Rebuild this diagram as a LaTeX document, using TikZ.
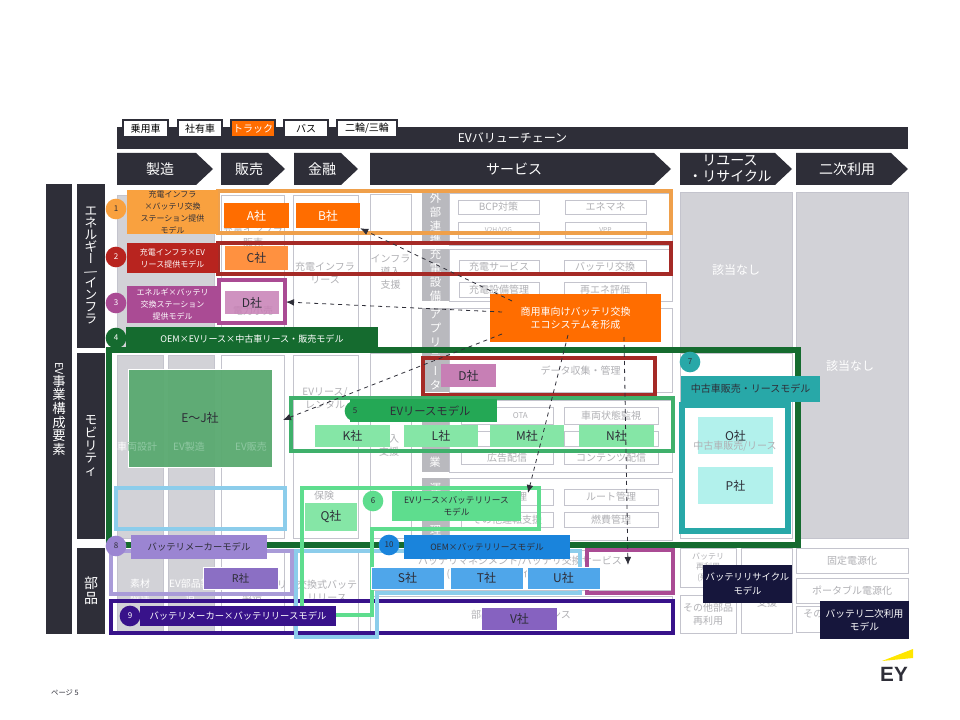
\documentclass[tikz,border=0pt]{standalone}
\usepackage{fontspec}
\usepackage{graphicx}
\setmainfont{Noto Sans CJK JP}
\newfontfamily\vertfont[RawFeature=+vert]{Noto Sans CJK JP}
\newfontfamily\logofont{Liberation Sans}
\usetikzlibrary{arrows.meta,calc}
\definecolor{evdark}{HTML}{2E2E38}
\definecolor{cellgray}{HTML}{D2D2D7}
\definecolor{stripgray}{HTML}{B9B9BE}
\definecolor{linegray}{HTML}{C4C4CD}
\definecolor{txtgray}{HTML}{B0B0B4}
\definecolor{morange}{HTML}{F9A13F}
\definecolor{mframe}{HTML}{EFA04B}
\definecolor{hotorange}{HTML}{FF6D00}
\definecolor{midorange}{HTML}{FF9140}
\definecolor{mred}{HTML}{B8241F}
\definecolor{mredf}{HTML}{A52A26}
\definecolor{mplum}{HTML}{AA4B94}
\definecolor{plumlt}{HTML}{C77FB5}
\definecolor{mforest}{HTML}{156B2F}
\definecolor{ejgreen}{HTML}{5BAA71}
\definecolor{ejtext}{HTML}{8FC8A2}
\definecolor{mgreen}{HTML}{24A855}
\definecolor{mgreenf}{HTML}{3FB06B}
\definecolor{greenlt}{HTML}{85E6A6}
\definecolor{mmint}{HTML}{5EDD8E}
\definecolor{mteal}{HTML}{28A8A8}
\definecolor{teallt}{HTML}{B2F1EC}
\definecolor{skyf}{HTML}{8CCDEB}
\definecolor{mblue}{HTML}{1A84DC}
\definecolor{bluelt}{HTML}{4FA6EA}
\definecolor{mviolet}{HTML}{9B85D2}
\definecolor{violetf}{HTML}{A99BD8}
\definecolor{violetdk}{HTML}{8B6FC4}
\definecolor{mindigo}{HTML}{38128A}
\definecolor{indigolt}{HTML}{8662C0}
\definecolor{mnavy}{HTML}{16163C}
\definecolor{eyyellow}{HTML}{FFE600}
% box from its two corners, in pixels of the 960x720 page
\newcommand{\bx}[7][]{%
  \node[inner sep=0pt,align=center,minimum width=(#5-#3)*0.75pt,minimum height=(#6-#4)*0.75pt,#1]
    (#2) at ({(#3+#5)/2},{(#4+#6)/2}) {#7};}
\newcommand{\chev}[5]{%
  \fill[evdark] (#2,153) -- ({#3-17},153) -- (#3,169) -- ({#3-17},185) -- (#2,185) -- cycle;
  \node[white,font=\fontsize{10.5}{12}\selectfont,align=center] (#1) at (#4,169) {#5};}
\newcommand{\longbar}{{\vertfont ー}}
\begin{document}
\begin{tikzpicture}[x=0.75pt,y=-0.75pt,>={Latex[length=6pt,width=5pt]}]
  \tikzstyle{tagbox}=[draw=evdark,fill=white,line width=0.8pt,font=\fontsize{7.5}{9}\selectfont]
  \tikzstyle{sidebar}=[fill=evdark,text=white]
  \tikzstyle{cell}=[draw=linegray,fill=white,line width=0.7pt,text=txtgray,font=\fontsize{7.5}{10}\selectfont]
  \tikzstyle{graycell}=[draw=linegray,fill=cellgray,line width=0.7pt,text=white,font=\fontsize{7.5}{10}\selectfont]
  \tikzstyle{strip}=[fill=stripgray,text=white,font=\fontsize{8.5}{10.5}\selectfont]
  \tikzstyle{tiny}=[text=txtgray,font=\fontsize{7.5}{10}\selectfont]
  \tikzstyle{model}=[text=white,font=\fontsize{6}{9}\selectfont]
  \tikzstyle{badge}=[circle,inner sep=0pt,minimum size=15.5pt,font=\fontsize{6}{7}\selectfont]
  \tikzstyle{firm}=[text=evdark,font=\fontsize{9}{10}\selectfont]
  \tikzstyle{dasharrow}=[->,dashed,evdark,line width=0.6pt]
  \useasboundingbox (0,0) rectangle (960,720);

  % header
  \bx[fill=evdark,text=white,font=\fontsize{9}{11}\selectfont]{chain}{117}{127}{908}{149}{EVバリューチェーン}
  \bx[tagbox]{tagA}{123}{120}{168}{137}{乗用車}
  \bx[tagbox]{tagB}{178}{120}{222}{137}{社有車}
  \bx[tagbox,fill=hotorange,text=white]{tagC}{231}{120}{275}{137}{トラック}
  \bx[tagbox]{tagD}{284}{120}{328}{137}{バス}
  \bx[tagbox]{tagE}{337}{120}{397}{137}{二輪/三輪}
  \chev{stepMake}{117}{213}{160}{製造}
  \chev{stepSell}{221}{285}{249}{販売}
  \chev{stepFin}{294}{358}{322}{金融}
  \chev{stepServ}{370}{671}{514}{サービス}
  \chev{stepReuse}{680}{792}{730}{リユース\\・リサイクル}
  \chev{stepSecond}{796}{908}{847}{二次利用}

  % side bars
  \bx[sidebar,font=\fontsize{10}{10.2}\selectfont]{sideEV}{46}{184}{72}{634}{\rotatebox[origin=c]{-90}{\fontsize{8}{8}\selectfont EV}\\事\\業\\構\\成\\要\\素}
  \bx[sidebar,font=\fontsize{9.5}{9}\selectfont]{sideEne}{77}{184}{105}{348}{エ\\ネ\\ル\\ギ\\\longbar\\\rotatebox[origin=c]{-70}{/}\\イ\\ン\\フ\\ラ}
  \bx[sidebar,font=\fontsize{9.5}{9.6}\selectfont]{sideMob}{77}{353}{105}{539}{モ\\ビ\\リ\\テ\\ィ}
  \bx[sidebar,font=\fontsize{10.5}{11}\selectfont]{sideParts}{77}{548}{105}{634}{部\\品}

  % cells, energy row
  \bx[graycell]{enMat}{117}{195}{214}{348}{}
  \bx[cell]{enSell}{221}{195}{284}{348}{}
  \node[tiny,align=center] (enSellT) at (253,236) {充電インフラ\\販売};
  \bx[cell]{enFin}{293}{195}{358}{348}{}
  \node[tiny,align=center] (enFinT) at (325,273) {充電インフラ\\リース};
  \bx[cell]{enInfra}{370}{194}{411}{350}{インフラ\\導入\\支援}
  \bx[cell,draw=linegray]{outExt}{449}{193}{672}{245}{}
  \bx[strip]{stripExt}{422}{193}{449}{245}{外\\部\\連\\携}
  \bx[cell]{cBcp}{458}{200}{539}{214}{BCP対策}
  \bx[cell]{cEne}{565}{200}{646}{214}{エネマネ}
  \bx[cell,font=\fontsize{5}{6}\selectfont]{cV2h}{458}{222}{539}{238}{V2H/V2G}
  \bx[cell,font=\fontsize{5}{6}\selectfont]{cVpp}{565}{222}{646}{238}{VPP}
  \bx[cell]{outCharge}{449}{249}{672}{301}{}
  \bx[strip]{stripCharge}{422}{249}{449}{301}{充\\電\\設\\備}
  \bx[cell]{cChg}{459}{260}{539}{274}{充電サービス}
  \bx[cell]{cSwap}{564}{260}{646}{274}{バッテリ交換}
  \bx[cell]{cMgmt}{459}{282}{539}{297}{充電設備管理}
  \bx[cell]{cRenew}{564}{282}{646}{297}{再エネ評価}
  \bx[cell]{outApp}{449}{308}{672}{350}{}
  \bx[strip]{stripApp}{422}{308}{449}{350}{ア\\プ\\リ}

  % cells, mobility row
  \bx[graycell]{moDesign}{117}{355}{163}{538}{}
  \bx[graycell]{moBuild}{168}{355}{214}{538}{}
  \bx[cell]{moSell}{221}{355}{284}{538}{}
  \bx[cell]{moFin}{293}{355}{358}{538}{}
  \node[tiny,align=center] (moFinT) at (325,398) {EVリース/\\レンタル};
  \node[tiny] (moInsT) at (324,496) {保険};
  \bx[cell]{moInfra}{370}{353}{411}{538}{}
  \node[tiny,align=center] (moInfraT) at (389,445) {導入\\支援};
  \bx[cell]{outData}{449}{350}{672}{392}{\hspace{30pt}データ収集・管理}
  \bx[strip]{stripData}{422}{350}{449}{392}{デ\\\longbar\\タ}
  \bx[cell]{outConn}{449}{400}{672}{472}{}
  \bx[strip]{stripConn}{422}{400}{449}{472}{}
  \node[text=white,font=\fontsize{8.5}{10}\selectfont] (stripConnT) at (435,462) {業};
  \bx[cell,font=\fontsize{6}{7}\selectfont]{cOta}{461}{407}{553}{424}{\hspace{20pt}OTA}
  \bx[cell]{cWatch}{564}{407}{658}{424}{車両状態監視}
  \bx[cell]{cRowL}{461}{431}{553}{446}{}
  \bx[cell]{cRowR}{564}{431}{658}{446}{}
  \bx[cell]{cAd}{461}{452}{553}{464}{広告配信}
  \bx[cell]{cCont}{564}{452}{658}{464}{コンテンツ配信}
  \bx[cell]{outOps}{449}{478}{672}{540}{}
  \bx[strip]{stripOps}{422}{478}{449}{540}{運\\行\\管\\理}
  \bx[cell]{cOpsL}{461}{489}{553}{505}{運行管理}
  \bx[cell]{cRoute}{564}{489}{658}{505}{ルート管理}
  \bx[cell]{cDrive}{461}{512}{553}{527}{その他運転支援}
  \bx[cell]{cFuel}{564}{512}{658}{527}{燃費管理}

  % cells, parts row
  \bx[graycell]{paMat}{117}{550}{163}{633}{}
  \bx[graycell]{paBuild}{168}{550}{214}{633}{}
  \node[text=white,align=center,font=\fontsize{7.5}{10}\selectfont] (paMatT) at (140,590) {素材\\調達};
  \node[text=white,align=center,font=\fontsize{7.5}{10}\selectfont] (paBuildT) at (190,590) {EV部品製\\造};
  \bx[cell]{paSell}{221}{550}{284}{633}{}
  \node[tiny,align=center] (paSellT) at (252,591) {交換式バッテリ\\製造};
  \bx[cell]{paFin}{293}{550}{358}{633}{}
  \node[tiny,align=center] (paFinT) at (327,591) {交換式バッテ\\リリース};
  \bx[cell]{paServ}{370}{550}{672}{590}{}
  \node[tiny,align=center] (paServT) at (520,568) {バッテリマネジメント/バッテリ交換サービス\\(充電量・交換タイミング管理等)};
  \bx[cell]{paKeep}{370}{596}{672}{634}{部品保守メンテナンス}

  % right columns
  \bx[fill=cellgray,draw=linegray,text=white,font=\fontsize{9}{11}\selectfont]{reuseNone}{680}{192}{792}{348}{該当なし}
  \bx[fill=cellgray,draw=linegray]{secondNone}{796}{192}{908}{538}{}
  \node[text=white,font=\fontsize{9}{11}\selectfont] (secondT) at (850,366) {該当なし};
  \bx[cell]{reuseMob}{680}{353}{792}{538}{}
  \bx[cell,font=\fontsize{6}{8}\selectfont]{reuseBat}{680}{548}{736}{587}{バッテリ\\再利用\\(残価)}
  \bx[cell]{reuseOther}{680}{595}{736}{633}{その他部品\\再利用}
  \bx[cell]{reuseHelp}{741}{548}{792}{633}{}
  \node[tiny] (reuseHelpT) at (767,603) {支援};
  \bx[cell]{secFix}{796}{548}{908}{573}{固定電源化}
  \bx[cell]{secPort}{796}{578}{908}{603}{ポータブル電源化}
  \bx[cell]{secOther}{796}{606}{908}{632}{}
  \node[tiny,anchor=west,inner sep=0pt] (secOtherT) at (803,614) {その他};

  % model frames
  \tikzstyle{frame}=[draw=#1,line width=3pt,fill=none]
  \bx[frame=mforest,line width=3.8pt]{frGreenDk}{109}{350}{798}{545}{}
  \bx[frame=mframe]{frOrange}{218}{191}{671}{233}{}
  \bx[frame=mredf]{frRed}{218}{243}{671}{274}{}
  \bx[draw=mplum,fill=white,line width=3pt]{frPlum}{219}{280}{285}{323}{}
  \node[tiny] (enRetailT) at (253,311) {電力小売};
  \bx[frame=mredf]{frRedB}{423}{358}{655}{395}{}
  \bx[frame=mgreenf]{frLease}{291}{398}{673}{451}{}
  \bx[frame=skyf]{frSkyA}{116}{488}{285}{529}{}
  \bx[frame=violetf]{frViolet}{111}{551}{292}{594}{}
  \bx[frame=mplum]{frPlumB}{587}{550}{673}{593}{}
  \bx[frame=mindigo]{frIndigo}{111}{601}{673}{633}{}
  \draw[skyf,line width=3pt] (296,551) -- (580,551) -- (580,593) -- (377,593) -- (377,637) -- (296,637) -- cycle;
  \draw[mmint,line width=3pt] (302,488) -- (539,488) -- (539,529) -- (372,529) -- (372,615) -- (302,615) -- cycle;
  \bx[frame=mteal,line width=3.8pt]{frTeal}{682}{405}{788}{531}{}

  % firms
  \bx[firm,fill=hotorange,text=white]{firmA}{224}{203}{289}{228}{A社}
  \bx[firm,fill=hotorange,text=white]{firmB}{296}{203}{360}{228}{B社}
  \bx[firm,fill=midorange]{firmC}{225}{246}{288}{270}{C社}
  \bx[firm,fill=plumlt,fill opacity=0.85,text opacity=1]{firmD}{225}{291}{279}{314}{D社}
  \bx[firm,fill=plumlt]{firmDb}{441}{364}{496}{387}{D社}
  \bx[firm,fill=ejgreen,draw=white,fill opacity=0.96,text opacity=1]{firmEJ}{128}{369}{272}{467}{E〜J社}
  \node[text=ejtext,font=\fontsize{7.5}{10}\selectfont] (moDesignT) at (137,447) {\textcolor{white}{車}両設計};
  \node[text=ejtext,font=\fontsize{7.5}{10}\selectfont] (moBuildT) at (189,447) {EV製造};
  \node[text=ejtext,font=\fontsize{7.5}{10}\selectfont] (moSellT) at (251,447) {EV販売};
  \bx[firm,fill=greenlt]{firmK}{315}{425}{390}{447}{K社}
  \bx[firm,fill=greenlt]{firmL}{404}{425}{478}{447}{L社}
  \bx[firm,fill=greenlt]{firmM}{490}{425}{564}{447}{M社}
  \bx[firm,fill=greenlt]{firmN}{579}{425}{654}{447}{N社}
  \bx[firm,fill=teallt]{firmO}{698}{417}{773}{454}{O社}
  \bx[firm,fill=teallt]{firmP}{698}{467}{773}{504}{P社}
  \node[tiny] (reuseT) at (735,446) {中古車販売/リース};
  \bx[firm,fill=greenlt]{firmQ}{305}{503}{357}{531}{Q社}
  \bx[firm,fill=violetdk,draw=white,font=\fontsize{8}{10}\selectfont]{firmR}{203}{567}{278}{589}{R社}
  \bx[firm,fill=bluelt,draw=white]{firmS}{371}{567}{444}{589}{S社}
  \bx[firm,fill=bluelt,draw=white]{firmT}{450}{567}{523}{589}{T社}
  \bx[firm,fill=bluelt,draw=white]{firmU}{527}{567}{600}{589}{U社}
  \bx[firm,fill=indigolt]{firmV}{482}{608}{557}{630}{V社}

  % model labels
  \bx[model,fill=morange,text=evdark]{modOne}{127}{190}{218}{234}{充電インフラ\\×バッテリ交換\\ステーション提供\\モデル}
  \bx[model,fill=mred]{modTwo}{127}{243}{218}{273}{充電インフラ×EV\\リース提供モデル}
  \bx[model,fill=mplum]{modThree}{127}{286}{218}{323}{エネルギ×バッテリ\\交換ステーション\\提供モデル}
  \bx[model,fill=mforest,font=\fontsize{6.8}{9}\selectfont]{modFour}{126}{327}{378}{352}{OEM×EVリース×中古車リース・販売モデル}
  \bx[firm,fill=mgreen,font=\fontsize{8.5}{10}\selectfont]{modFive}{350}{399}{497}{422}{\hspace{10pt}EVリースモデル}
  \bx[firm,fill=mmint,font=\fontsize{6.5}{9}\selectfont]{modSix}{392}{491}{521}{521}{EVリース×バッテリリース\\モデル}
  \bx[firm,fill=mteal,font=\fontsize{7.5}{9}\selectfont]{modSeven}{681}{376}{820}{402}{中古車販売・リースモデル}
  \bx[firm,fill=mviolet,font=\fontsize{7}{9}\selectfont]{modEight}{131}{535}{267}{559}{バッテリメーカーモデル}
  \bx[model,fill=mindigo,font=\fontsize{7}{9}\selectfont]{modNine}{140}{606}{336}{626}{バッテリメーカー×バッテリリースモデル}
  \bx[firm,fill=mblue,font=\fontsize{6.5}{9}\selectfont]{modTen}{404}{535}{570}{559}{OEM×バッテリリースモデル}
  \bx[model,fill=mnavy,font=\fontsize{7}{10}\selectfont]{modRecycle}{703}{565}{792}{603}{バッテリリサイクル\\モデル}
  \bx[model,fill=mnavy,font=\fontsize{7.3}{10}\selectfont]{modSecond}{820}{601}{909}{639}{バッテリ二次利用\\モデル}

  % badges
  \node[badge,fill=morange,text=evdark] (numOne) at (116,209) {1};
  \node[badge,fill=mred,text=white] (numTwo) at (116,257) {2};
  \node[badge,fill=mplum,text=white] (numThree) at (116,303) {3};
  \node[badge,fill=mforest,text=white] (numFour) at (116,338) {4};
  \node[badge,fill=mgreen,text=evdark] (numFive) at (355,411) {5};
  \node[badge,fill=mmint,text=evdark] (numSix) at (373,501) {6};
  \node[badge,fill=mteal,text=evdark] (numSeven) at (690,362) {7};
  \node[badge,fill=mviolet,text=evdark] (numEight) at (116,546) {8};
  \node[badge,fill=mindigo,text=white] (numNine) at (130,616) {9};
  \node[badge,fill=mblue,text=evdark] (numTen) at (389,545) {10};

  % centre box and its arrows
  \bx[fill=hotorange,text=white,font=\fontsize{7.5}{9.5}\selectfont]{hub}{490}{294}{661}{342}{商用車向けバッテリ交換\\エコシステムを形成}
  \coordinate (hubB) at (512,301);
  \coordinate (hubD) at (502,312);
  \coordinate (hubE) at (502,334);
  \coordinate (hubQ) at (568,335);
  \coordinate (hubP) at (624,337);
  \coordinate (toD) at (286,302);
  \coordinate (toE) at (283,420);
  \coordinate (toSix) at (528,493);
  \coordinate (toPlum) at (628,565);
  \draw[dasharrow] (hubB) -- (firmB.south east);
  \draw[dasharrow] (hubD) -- (toD);
  \draw[dasharrow] (hubE) -- (toE);
  \draw[dasharrow] (hubQ) -- (toSix);
  \draw[dasharrow] (hubP) -- (toPlum);

  % footer
  \node[text=evdark,font=\fontsize{5.5}{7}\selectfont] (page) at (65,693) {ページ 5};
  \fill[eyyellow] (882,661) -- (913,649) -- (913,658) -- cycle;
  \node[text=evdark,font=\logofont\bfseries\fontsize{15.5}{18}\selectfont] (logo) at (894,674) {EY};
\end{tikzpicture}
\end{document}
